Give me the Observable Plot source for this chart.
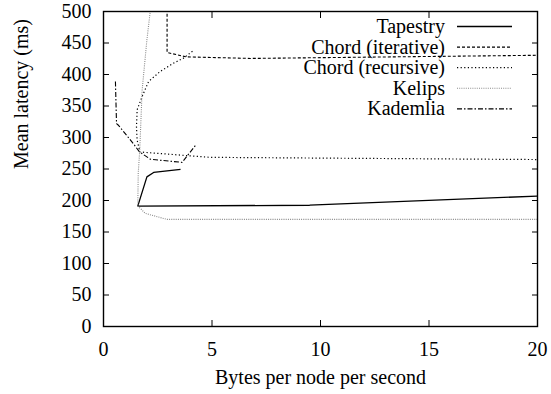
<!DOCTYPE html>
<html>
<head>
<meta charset="utf-8">
<script src="https://cdn.jsdelivr.net/npm/d3@7"></script>
<script src="https://cdn.jsdelivr.net/npm/@observablehq/plot@0.6"></script>
<style>
  html, body { margin: 0; padding: 0; background: #fff; }
  html body #chart svg text, html body #chart svg tspan { font-family: "Liberation Serif", serif !important; }
</style>
</head>
<body>
<div id="chart"></div>
<script>
// Mean lookup latency vs. maintenance bandwidth for several DHT protocols
const xTicks = [0, 5, 10, 15, 20];
const yTicks = [0, 50, 100, 150, 200, 250, 300, 350, 400, 450, 500];

const tapestryX = [3.55, 2.31, 2.0, 1.58, 9.5, 20];
const tapestryY = [249.5, 244.5, 237.5, 191, 192.5, 207];

const chordIterX = [2.93, 2.93, 3.8, 6.8, 20];
const chordIterY = [560, 435, 428, 425.5, 430.5];

const chordRecX = [4.1, 3.69, 3.23, 2.62, 2.08, 1.78, 1.55, 1.52, 1.55, 1.68, 4.9, 20];
const chordRecY = [437, 426, 418, 405, 389, 365, 344, 317, 296, 277, 268.5, 265];

const kelipsX = [20, 2.93, 1.93, 1.71, 1.58, 1.6, 1.67, 1.78, 2.0, 2.17];
const kelipsY = [170, 170, 179.5, 187, 191, 243, 280, 375, 455, 505];

const kademliaX = [0.55, 0.6, 0.7, 1.38, 1.65, 2.16, 3.62, 4.25];
const kademliaY = [389, 322, 319, 290, 277.5, 265.5, 260.5, 288];

const seriesNames = ["Tapestry", "Chord (iterative)", "Chord (recursive)", "Kelips", "Kademlia"];
const seriesX = [tapestryX, chordIterX, chordRecX, kelipsX, kademliaX];
const seriesY = [tapestryY, chordIterY, chordRecY, kelipsY, kademliaY];

const styles = {
  "Tapestry":          {stroke: "#000", dash: null, width: 1.3},
  "Chord (iterative)": {stroke: "#000", dash: "3,2", width: 1.1},
  "Chord (recursive)": {stroke: "#000", dash: "1.2,2.4", width: 1.2},
  "Kelips":            {stroke: "#8a8a8a", dash: "1,1.2", width: 1.1},
  "Kademlia":          {stroke: "#000", dash: "5,2,1.5,2", width: 1.1}
};

const rows = seriesNames.flatMap((name, i) =>
  seriesX[i].map((x, j) => ({name, x, y: seriesY[i][j]})));

const lineMarks = seriesNames.map(name => {
  const s = styles[name];
  return Plot.line(rows.filter(d => d.name === name), {
    x: "x", y: "y", clip: true,
    stroke: s.stroke, strokeWidth: s.width,
    strokeDasharray: s.dash, strokeLinejoin: "miter", strokeLinecap: "butt"
  });
});

const serif = "Liberation Serif";

const chart = Plot.plot({
  width: 551,
  height: 394,
  marginLeft: 103,
  marginRight: 14,
  marginTop: 11,
  marginBottom: 68,
  style: {fontSize: "20px", color: "#000", background: "#fff"},
  x: {domain: [0, 20]},
  y: {domain: [0, 500]},
  marks: [
    ...lineMarks,
    Plot.axisX({ticks: xTicks, tickSize: -6, tickPadding: 21, label: null, fontSize: 20, fontFamily: serif}),
    Plot.axisX({ticks: xTicks, anchor: "top", tickSize: -6, tickFormat: () => "", label: null}),
    Plot.axisY({ticks: yTicks, tickSize: -6, tickPadding: 18, label: null, fontSize: 20, fontFamily: serif}),
    Plot.axisY({ticks: yTicks, anchor: "right", tickSize: -6, tickFormat: () => "", label: null}),
    Plot.frame({stroke: "#000", strokeWidth: 1.4}),
    Plot.text(["Bytes per node per second"], {frameAnchor: "bottom", dy: 57, fontSize: 20, fontFamily: serif}),
    Plot.text(["Mean latency (ms)"], {frameAnchor: "left", dx: -82, rotate: -90, fontSize: 20, fontFamily: serif})
  ]
});

const svg = d3.select(chart).attr("font-family", serif);

// Key in the upper-right corner of the plot area
const key = svg.append("g").attr("font-size", 20).attr("font-family", serif);
const keyTop = 26.5, keyStep = 20.6, textRight = 445, lineX1 = 457, lineX2 = 512;
seriesNames.forEach((name, i) => {
  const s = styles[name];
  const y = keyTop + i * keyStep;
  key.append("text")
    .attr("x", textRight).attr("y", y).attr("dy", "0.32em")
    .attr("text-anchor", "end").attr("fill", "#000")
    .text(name);
  key.append("line")
    .attr("x1", lineX1).attr("x2", lineX2).attr("y1", y).attr("y2", y)
    .attr("stroke", s.stroke).attr("stroke-width", s.width)
    .attr("stroke-dasharray", s.dash);
});

// Serif face on every label, tick value and key entry
svg.selectAll("text").each(function() {
  this.setAttribute("font-family", serif);
  this.style.setProperty("font-family", serif, "important");
});

document.getElementById("chart").append(chart);
</script>
</body>
</html>
